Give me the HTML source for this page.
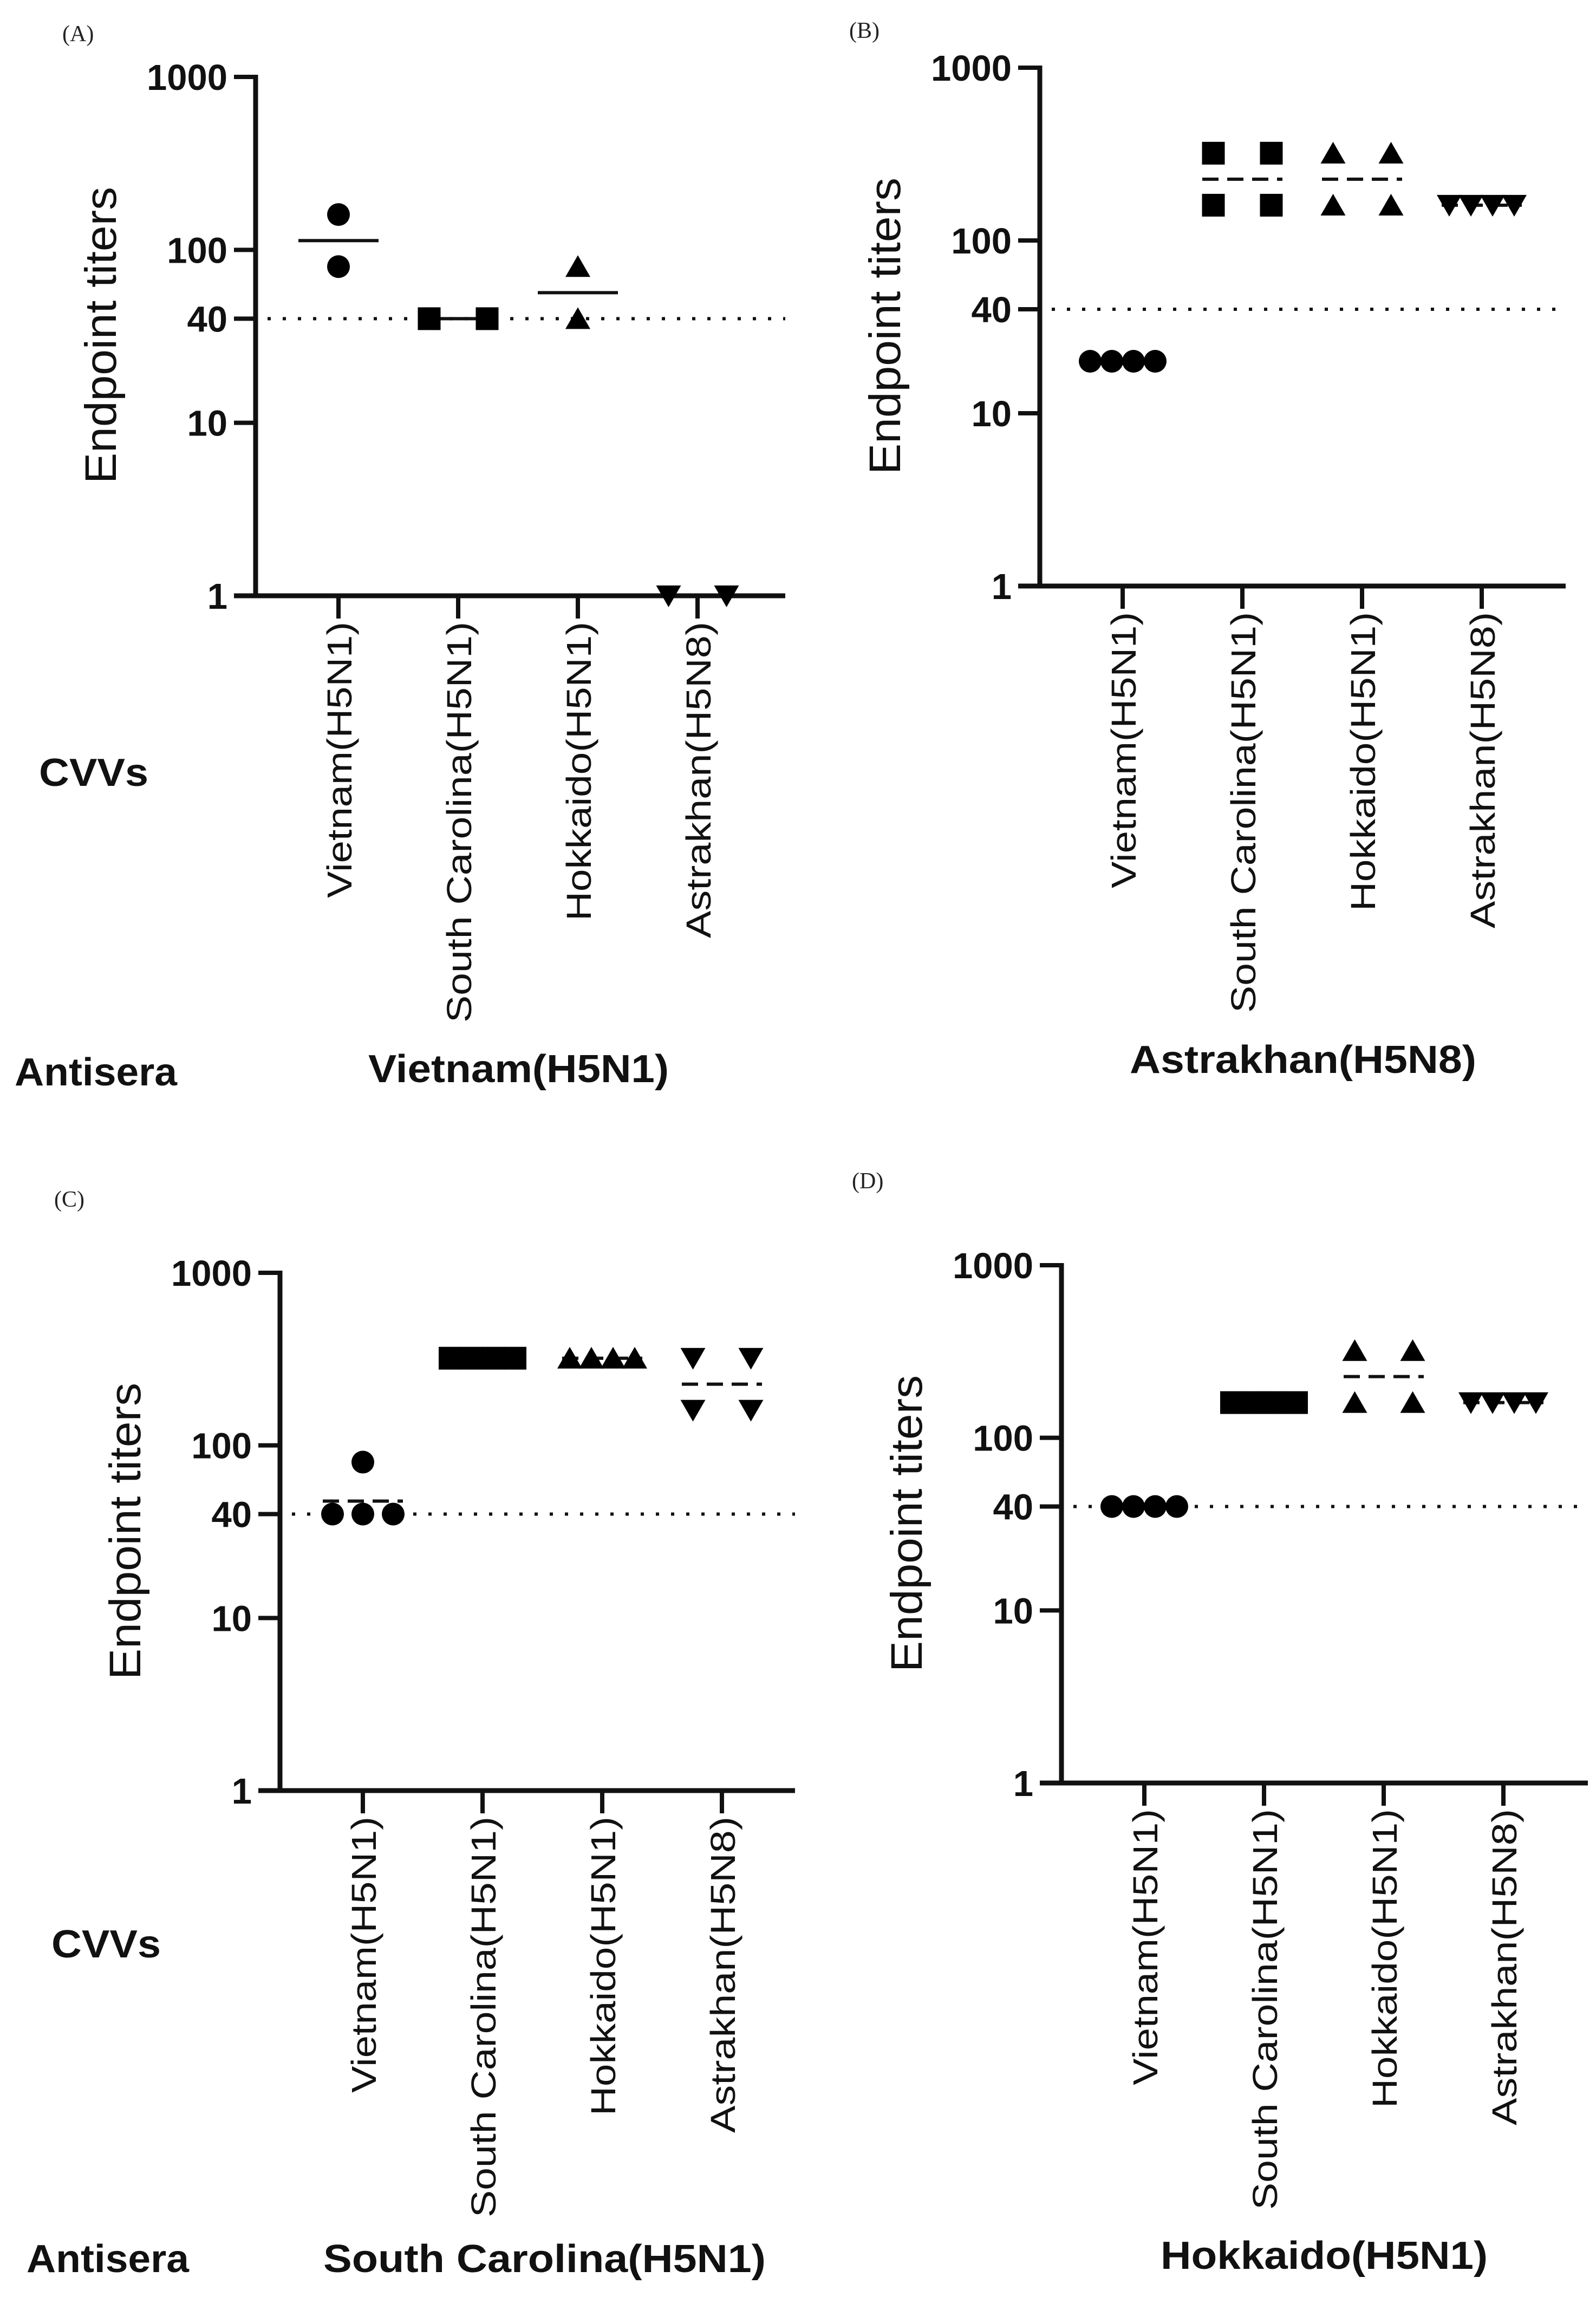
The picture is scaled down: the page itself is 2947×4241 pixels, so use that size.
<!DOCTYPE html>
<html><head><meta charset="utf-8"><style>html,body{margin:0;padding:0;background:#fff}svg{display:block}</style></head>
<body>
<svg id="fig" xmlns="http://www.w3.org/2000/svg" width="2947" height="4241" viewBox="0 0 2947 4241">
<rect width="2947" height="4241" fill="#fff"/>
</svg>
<script>
const categories = ["Vietnam(H5N1)", "South Carolina(H5N1)", "Hokkaido(H5N1)", "Astrakhan(H5N8)"];
const tickValues = [1, 10, 40, 100, 1000];
const tickLabels = ["1", "10", "40", "100", "1000"];
const thresholdValue = 40;
const panelA_values = [[160, 80], [40, 40], [80, 40], [1, 1]];
const panelB_values = [[20, 20, 20, 20], [320, 320, 160, 160], [320, 320, 160, 160], [160, 160, 160, 160]];
const panelC_values = [[80, 40, 40, 40], [320, 320, 320, 320], [320, 320, 320, 320], [320, 320, 160, 160]];
const panelD_values = [[40, 40, 40, 40], [160, 160, 160, 160], [320, 320, 160, 160], [160, 160, 160, 160]];
const panelTitles = ["Vietnam(H5N1)", "Astrakhan(H5N8)", "South Carolina(H5N1)", "Hokkaido(H5N1)"];

const NS = "http://www.w3.org/2000/svg";
const svg = document.getElementById("fig");
function mk(tag, attrs, parent) {
  const e = document.createElementNS(NS, tag);
  for (const k in attrs) e.setAttribute(k, attrs[k]);
  (parent || svg).appendChild(e);
  return e;
}
const panels = [
  {id:"a", letter:"(A)", lx:115, ly:76, x0:472, xEnd:1450, top:142, bot:1100, vals:panelA_values, title:panelTitles[0], tx:680, tw:555, tb:1998, solid:true, side:{cx:72, cb:1451, ax:27, ab:2004}},
  {id:"b", letter:"(B)", lx:1568, ly:70, x0:1920, xEnd:2891, top:125, bot:1082, vals:panelB_values, title:panelTitles[1], tx:2086, tw:640, tb:1981, solid:false},
  {id:"c", letter:"(C)", lx:100, ly:2228, x0:517, xEnd:1468, top:2350, bot:3306, vals:panelC_values, title:panelTitles[2], tx:597, tw:817, tb:4195, solid:false, side:{cx:95, cb:3614, ax:49, ab:4195}},
  {id:"d", letter:"(D)", lx:1573, ly:2194, x0:1960, xEnd:2932, top:2336, bot:3292, vals:panelD_values, title:panelTitles[3], tx:2143, tw:604, tb:4189, solid:false}
];
const spacingByCount = {1:0, 2:107, 3:56, 4:40};
const labelLengths = [510, 740, 552, 584];
const font = '"Liberation Sans", Arial, sans-serif';

panels.forEach(p => {
  const g = mk("g", {});
  
  
  const yScale = v => p.bot - Math.log10(v) / 3 * (p.bot - p.top);
  const xScale = i => p.x0 + 153 + i * 221;

  const lt = mk("text", {x:p.lx, y:p.ly, "font-family":'"Liberation Serif", serif', "font-size":42, fill:"#222"}, g);
  lt.textContent = p.letter;
  
  

  const th = mk("line", {x1:p.x0+22, x2:p.xEnd, y1:yScale(thresholdValue), y2:yScale(thresholdValue), stroke:"#111", "stroke-width":6, "stroke-dasharray":"6 22"}, g);
  
  

  const ya = mk("line", {x1:p.x0, x2:p.x0, y1:p.top-4, y2:p.bot+4, stroke:"#111", "stroke-width":9}, g);
  
  
  const xa = mk("line", {x1:p.x0-40, x2:p.xEnd, y1:p.bot, y2:p.bot, stroke:"#111", "stroke-width":9}, g);
  
  

  tickValues.forEach((v, i) => {
    const y = yScale(v);
    const tl = mk("line", {x1:p.x0-40, x2:p.x0, y1:y, y2:y, stroke:"#111", "stroke-width":8}, g);
    
    
    const t = mk("text", {x:p.x0-52, y:y+24, "text-anchor":"end", "font-family":font, "font-weight":"bold", "font-size":67, fill:"#111"}, g);
    t.textContent = tickLabels[i];
    
    
  });

  const yt = mk("text", {x:0, y:0, transform:`translate(${p.x0-287+29},${p.top+477}) rotate(-90)`, "text-anchor":"middle", "font-family":font, "font-size":82, fill:"#111", textLength:548, lengthAdjust:"spacingAndGlyphs"}, g);
  yt.textContent = "Endpoint titers";
  
  

  categories.forEach((c, i) => {
    const x = xScale(i);
    const tk = mk("line", {x1:x, x2:x, y1:p.bot, y2:p.bot+42, stroke:"#111", "stroke-width":8}, g);
    
    
    const t = mk("text", {x:0, y:0, transform:`translate(${x+24},${p.bot+48}) rotate(-90)`, "text-anchor":"end", "font-family":font, "font-size":64, fill:"#111", textLength:labelLengths[i], lengthAdjust:"spacingAndGlyphs"}, g);
    t.textContent = c;
    
    

    const vals = p.vals[i];
    const gm = Math.pow(10, vals.reduce((s, v) => s + Math.log10(v), 0) / vals.length);
    const my = yScale(gm);
    const ml = mk("line", {x1:x-74, x2:x+74, y1:my, y2:my, stroke:"#111", "stroke-width":6}, g);
    if (!p.solid) ml.setAttribute("stroke-dasharray", "30 16");
    
    

    const groups = {};
    vals.forEach(v => { (groups[v] = groups[v] || []).push(v); });
    Object.keys(groups).forEach(k => {
      const n = groups[k].length;
      const sp = spacingByCount[n] !== undefined ? spacingByCount[n] : 40;
      groups[k].forEach((v, j) => {
        const px = x + (j - (n - 1) / 2) * sp;
        const py = yScale(v);
        let m;
        if (i === 0) m = mk("circle", {cx:px, cy:py, r:21, fill:"#000"}, g);
        else if (i === 1) m = mk("rect", {x:px-21, y:py-21, width:42, height:42, fill:"#000"}, g);
        else if (i === 2) m = mk("polygon", {points:`${px-23},${py+19} ${px+23},${py+19} ${px},${py-21}`, fill:"#000"}, g);
        else m = mk("polygon", {points:`${px-23},${py-19} ${px+23},${py-19} ${px},${py+21}`, fill:"#000"}, g);
        
        
      });
    });
  });

  const tt = mk("text", {x:p.tx, y:p.tb, "font-family":font, "font-weight":"bold", "font-size":72, fill:"#111", textLength:p.tw, lengthAdjust:"spacingAndGlyphs"}, g);
  tt.textContent = p.title;
  
  

  if (p.side) {
    const cv = mk("text", {x:p.side.cx, y:p.side.cb, "font-family":font, "font-weight":"bold", "font-size":72, fill:"#111", textLength:202, lengthAdjust:"spacingAndGlyphs"}, g);
    cv.textContent = "CVVs";
    
    
    const an = mk("text", {x:p.side.ax, y:p.side.ab, "font-family":font, "font-weight":"bold", "font-size":72, fill:"#111", textLength:300, lengthAdjust:"spacingAndGlyphs"}, g);
    an.textContent = "Antisera";
    
    
  }
});
</script>
</body></html>
